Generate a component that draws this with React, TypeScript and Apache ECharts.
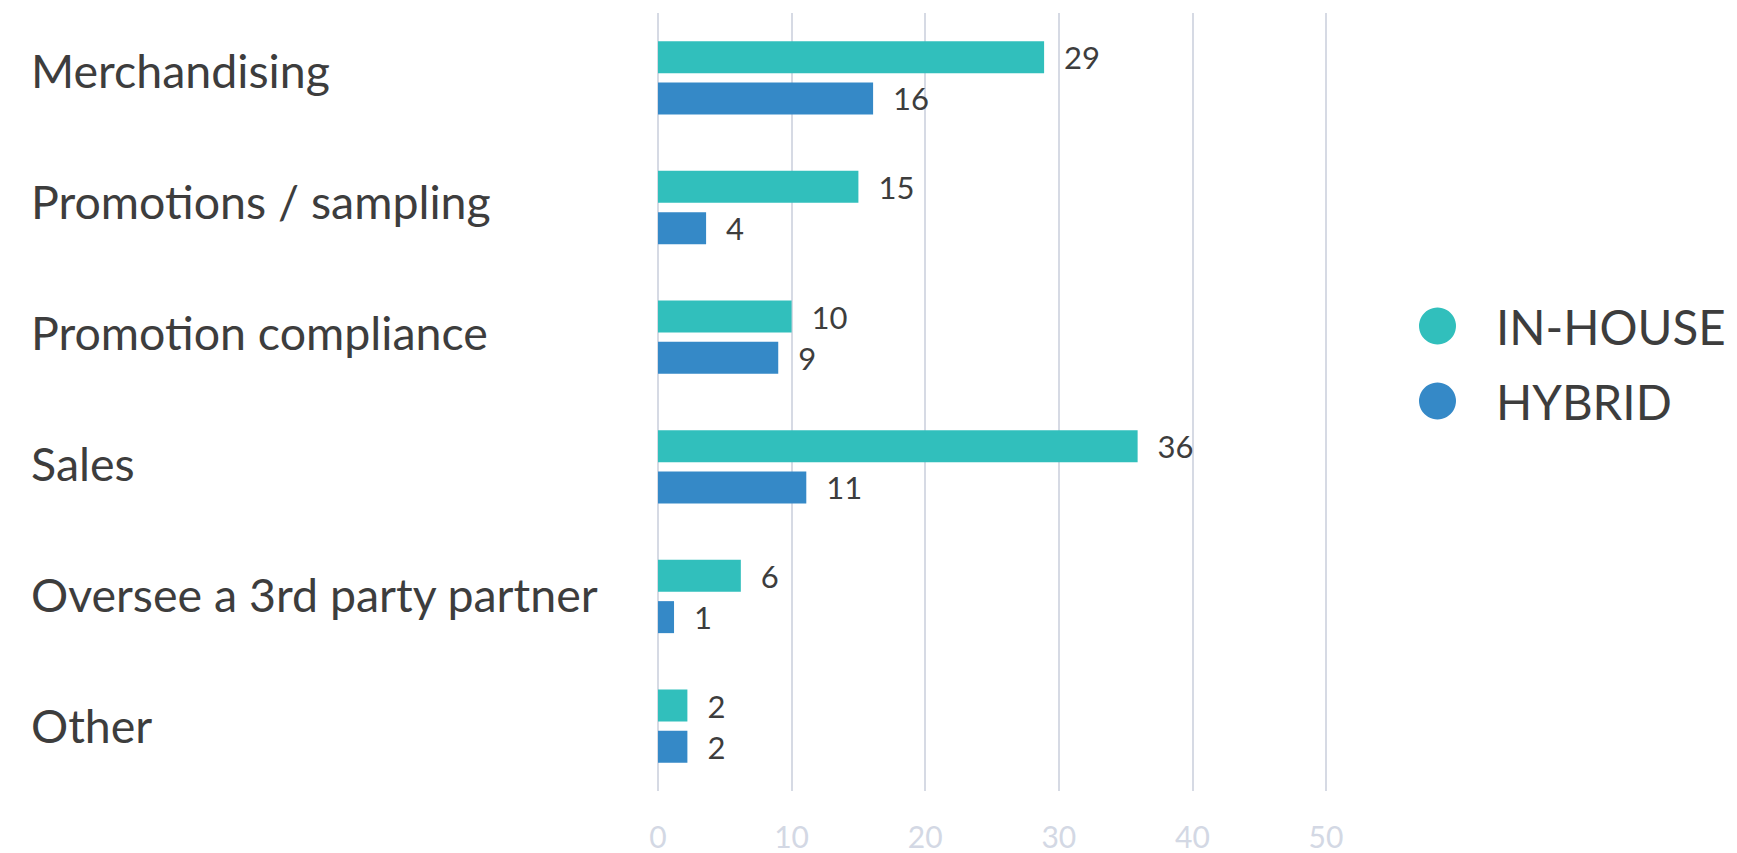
import React, { useEffect, useRef } from "react";
import * as echarts from "echarts";

const categories = [
  "Merchandising",
  "Promotions / sampling",
  "Promotion compliance",
  "Sales",
  "Oversee a 3rd party partner",
  "Other",
];
const inHouse = [28.9, 15, 10, 35.9, 6.2, 2.2];
const hybrid = [16.1, 3.6, 9, 11.1, 1.2, 2.2];
const seriesNames = ["IN-HOUSE", "HYBRID"];
const xTicks = { min: 0, max: 50, interval: 10 };

const FONT = "Lato, 'Noto Sans', sans-serif";
const TEXT = "#3d3d3d";

export default function App() {
  const ref = useRef<HTMLDivElement>(null);
  useEffect(() => {
    document.body.style.margin = "0";
    const chart = echarts.init(ref.current!, undefined, { renderer: "svg" });
    const label = {
      show: true,
      position: "right" as const,
      distance: 20,
      fontSize: 31,
      fontFamily: FONT,
      color: TEXT,
      formatter: (p: any) => String(Math.round(p.value)),
    };
    chart.setOption({
      animation: false,
      textStyle: { fontFamily: FONT },
      grid: [
        { left: 658, right: 411, top: 13, bottom: 62, containLabel: false },
        { left: 658, right: 411, top: 4, bottom: 62, containLabel: false },
      ],
      legend: {
        orient: "vertical",
        left: 1414,
        top: 297,
        icon: "circle",
        itemWidth: 37,
        itemHeight: 37,
        itemGap: 27,
        textStyle: { fontSize: 47.5, color: TEXT, fontFamily: FONT, padding: [0, 0, 0, 35] },
        data: seriesNames,
      },
      xAxis: [
        {
          type: "value",
          gridIndex: 0,
          min: xTicks.min,
          max: xTicks.max,
          interval: xTicks.interval,
          axisLine: { show: false },
          axisTick: { show: false },
          splitLine: { lineStyle: { color: "#d6dae4", width: 2 } },
          axisLabel: { fontSize: 30, color: "#d3d8e4", margin: 30, fontFamily: FONT },
        },
        {
          type: "value",
          gridIndex: 1,
          min: 0,
          max: 1,
          show: false,
        },
      ],
      yAxis: [
        {
          type: "category",
          gridIndex: 0,
          inverse: true,
          data: categories,
          axisLine: { show: false },
          axisTick: { show: false },
          axisLabel: { show: false },
        },
        {
          type: "category",
          gridIndex: 1,
          inverse: true,
          data: categories,
          axisLine: { show: false },
          axisTick: { show: false },
          splitLine: { show: false },
          axisLabel: {
            fontSize: 46.5,
            color: TEXT,
            align: "left",
            margin: 627,
            fontFamily: FONT,
          },
        },
      ],
      series: [
        {
          name: seriesNames[0],
          type: "bar",
          xAxisIndex: 0,
          yAxisIndex: 0,
          data: inHouse,
          barWidth: 32,
          barGap: "29%",
          itemStyle: { color: "#31bfbc" },
          label,
        },
        {
          name: seriesNames[1],
          type: "bar",
          xAxisIndex: 0,
          yAxisIndex: 0,
          data: hybrid,
          barWidth: 32,
          barGap: "29%",
          itemStyle: { color: "#3589c7" },
          label,
        },
      ],
    });
    return () => chart.dispose();
  }, []);
  return <div ref={ref} style={{ width: 1737, height: 853 }} />;
}
